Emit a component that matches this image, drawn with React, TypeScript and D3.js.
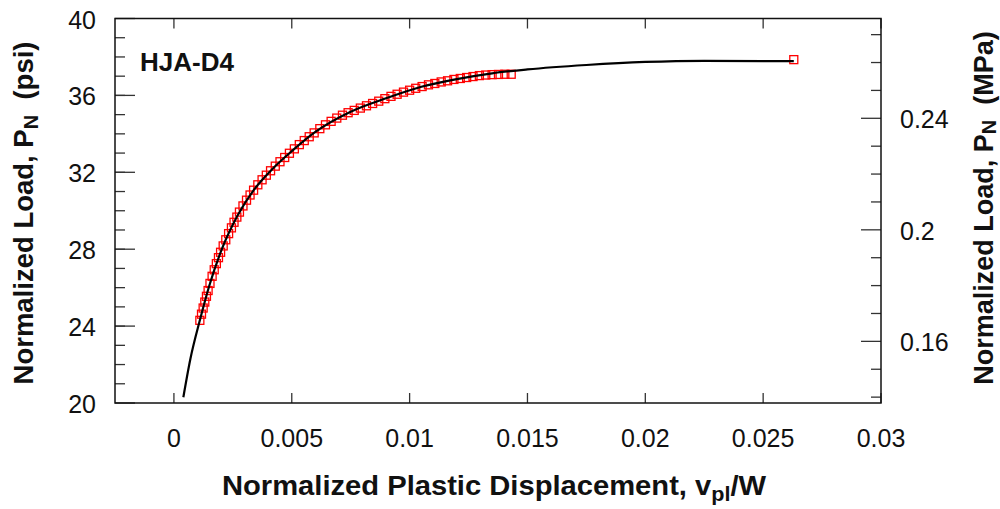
import React from "react";
import * as d3 from "d3";

// Fitted load curve (normalized plastic displacement, psi)
const curveX = [0.0004, 0.0007, 0.0011, 0.0015, 0.002, 0.0027, 0.0034, 0.0042, 0.005, 0.006, 0.0075, 0.009, 0.0105, 0.012, 0.0135, 0.015, 0.0175, 0.02, 0.0225, 0.0263];
const curveY = [20.3, 22.3, 24.3, 26.1, 27.9, 29.75, 31.1, 32.2, 33.1, 34.1, 35.15, 35.85, 36.45, 36.85, 37.15, 37.35, 37.58, 37.74, 37.8, 37.78];

// Measured points
const dataX = [
  0.0011, 0.00117, 0.00124, 0.00131, 0.00138, 0.00145,
  0.00153, 0.00162, 0.00171, 0.0018, 0.00189, 0.00198,
  0.00209, 0.0022, 0.00232, 0.00244, 0.00255, 0.00267,
  0.00278, 0.00293, 0.00308, 0.00323, 0.00338,
  0.00356, 0.00374, 0.00392, 0.0041,
  0.0043, 0.0045, 0.0047, 0.0049,
  0.00511, 0.00532, 0.00553, 0.00574, 0.00595,
  0.00619, 0.00643, 0.00667, 0.00691, 0.00715, 0.00739,
  0.00765, 0.00791, 0.00817, 0.00843, 0.00869, 0.00895,
  0.00921, 0.00947, 0.00974, 0.01, 0.01026,
  0.01053, 0.0108, 0.01107, 0.01134, 0.01161, 0.01188,
  0.01215, 0.01242, 0.01269, 0.01296, 0.01323, 0.0135,
  0.01377, 0.01404, 0.01431,
  0.0263,
];
const dataY = [
  24.3, 24.62, 24.94, 25.25, 25.55, 25.85,
  26.22, 26.59, 26.93, 27.25, 27.56, 27.84,
  28.17, 28.49, 28.81, 29.11, 29.4, 29.67,
  29.93, 30.25, 30.55, 30.82, 31.07,
  31.35, 31.61, 31.85, 32.08,
  32.32, 32.55, 32.77, 32.99,
  33.22, 33.44, 33.65, 33.85, 34.05,
  34.27, 34.47, 34.65, 34.82, 34.97, 35.1,
  35.22, 35.34, 35.46, 35.58, 35.7, 35.83,
  35.95, 36.06, 36.17, 36.27, 36.37,
  36.46, 36.55, 36.62, 36.7, 36.76, 36.83,
  36.88, 36.93, 36.98, 37.03, 37.06, 37.08,
  37.09, 37.1, 37.1,
  37.86,
];

const xTicks = [0, 0.005, 0.01, 0.015, 0.02, 0.025, 0.03];
const xTickLabels = ["0", "0.005", "0.01", "0.015", "0.02", "0.025", "0.03"];
const psiTicks = [20, 24, 28, 32, 36, 40];
const psiMinor = d3.range(21, 40, 1);
const mpaTicks = [0.16, 0.2, 0.24];
const mpaTickLabels = ["0.16", "0.2", "0.24"];
const mpaMinor = [0.14, 0.15, 0.17, 0.18, 0.19, 0.21, 0.22, 0.23, 0.25, 0.26, 0.27];
const PSI_PER_MPA = 1 / 0.00689476;

const W = 1000;
const H = 509;
const left = 115;
const right = 881;
const top = 18.5;
const bottom = 403;

const FONT = "'Liberation Sans', Arial, Helvetica, sans-serif";

export default function App() {
  const x = d3.scaleLinear().domain([-0.0025, 0.03]).range([left, right]);
  const y = d3.scaleLinear().domain([20, 40]).range([bottom, top]);
  const yMpa = (v: number) => y(v * PSI_PER_MPA);

  const line = d3
    .line<number>()
    .x((_, i) => x(curveX[i]))
    .y((d) => y(d))
    .curve(d3.curveMonotoneX);

  const tickStroke = "#333";
  const sq = 8;

  return (
    <svg
      width={W}
      height={H}
      style={{ position: "absolute", left: 0, top: 0, background: "#fff" }}
      fontFamily={FONT}
    >
      <rect x={0} y={0} width={W} height={H} fill="#fff" />

      {/* left axis ticks */}
      {psiTicks.map((t) => (
        <line key={"pl" + t} x1={left} x2={left + 20} y1={y(t)} y2={y(t)} stroke={tickStroke} strokeWidth={1.3} />
      ))}
      {psiMinor.map((t) => (
        <line key={"pm" + t} x1={left} x2={left + 10} y1={y(t)} y2={y(t)} stroke={tickStroke} strokeWidth={1.3} />
      ))}
      {psiTicks.map((t) => (
        <text key={"plt" + t} x={96} y={y(t) + 10} textAnchor="end" fontSize={25} fill="#111">
          {t}
        </text>
      ))}

      {/* right axis ticks (MPa) */}
      {mpaTicks.map((t) => (
        <line key={"ml" + t} x1={right - 20} x2={right} y1={yMpa(t)} y2={yMpa(t)} stroke={tickStroke} strokeWidth={1.3} />
      ))}
      {mpaMinor.map((t) => (
        <line key={"mm" + t} x1={right - 10} x2={right} y1={yMpa(t)} y2={yMpa(t)} stroke={tickStroke} strokeWidth={1.3} />
      ))}
      {mpaTicks.map((t, i) => (
        <text key={"mlt" + t} x={900} y={yMpa(t) + 10} textAnchor="start" fontSize={25} fill="#111">
          {mpaTickLabels[i]}
        </text>
      ))}

      {/* top and bottom ticks */}
      {xTicks.map((t) => (
        <g key={"xt" + t}>
          <line x1={x(t)} x2={x(t)} y1={bottom} y2={bottom - 10} stroke={tickStroke} strokeWidth={1.3} />
          <line x1={x(t)} x2={x(t)} y1={top} y2={top + 10} stroke={tickStroke} strokeWidth={1.3} />
        </g>
      ))}
      {xTicks.map((t, i) => (
        <text key={"xl" + t} x={x(t)} y={447} textAnchor="middle" fontSize={25} fill="#111">
          {xTickLabels[i]}
        </text>
      ))}

      {/* frame */}
      <rect x={left} y={top} width={right - left} height={bottom - top} fill="none" stroke="#111" strokeWidth={1.5} />

      {/* measured points */}
      {dataX.map((dx, i) => (
        <rect
          key={"d" + i}
          x={x(dx) - sq / 2}
          y={y(dataY[i]) - sq / 2}
          width={sq}
          height={sq}
          fill="none"
          stroke="#ff0000"
          strokeWidth={1.3}
        />
      ))}

      {/* fitted curve */}
      <path d={line(curveY) || ""} fill="none" stroke="#000" strokeWidth={2.2} />

      {/* specimen label */}
      <text x={140} y={71} fontSize={26} fontWeight="bold" fill="#111">
        HJA-D4
      </text>

      {/* axis titles */}
      <text transform="translate(494,495) scale(1.08,1)" textAnchor="middle" fontSize={27} fontWeight="bold" fill="#111">
        Normalized Plastic Displacement, v
        <tspan fontSize={20} dy={6}>pl</tspan>
        <tspan dy={-6}>/W</tspan>
      </text>
      <text transform="translate(33,213) rotate(-90)" textAnchor="middle" fontSize={27.5} fontWeight="bold" fill="#111">
        Normalized Load, P
        <tspan fontSize={20} dy={5}>N</tspan>
        <tspan dy={-5}>{"\u00a0\u00a0(psi)"}</tspan>
      </text>
      <text transform="translate(993,208) rotate(-90)" textAnchor="middle" fontSize={27} fontWeight="bold" fill="#111">
        Normalized Load, P
        <tspan fontSize={20} dy={3}>N</tspan>
        <tspan dy={-3}>{"\u00a0\u00a0(MPa)"}</tspan>
      </text>
    </svg>
  );
}
